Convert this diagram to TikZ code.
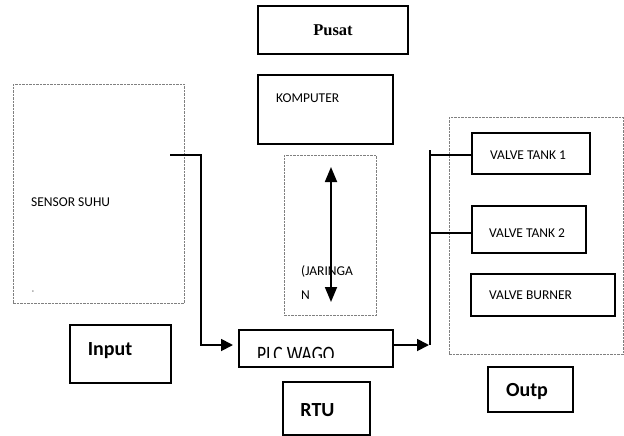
\documentclass[tikz,border=0pt]{standalone}
\usepackage{fontspec}
\setmainfont{Carlito}
\newfontfamily\serifbold{Liberation Serif}
\usetikzlibrary{arrows.meta}
\begin{document}
\begin{tikzpicture}[x=1pt,y=-1pt,
    box/.style={draw,line width=1.4pt,inner sep=0pt},
    group/.style={draw=gray,line width=0.5pt,dash pattern=on 2.5pt off 1pt,inner sep=0pt},
    txt/.style={inner sep=0pt,anchor=west,font=\fontsize{13.5}{16}\selectfont},
    big/.style={inner sep=0pt,font=\fontsize{20}{24}\selectfont\bfseries},
    conn/.style={line width=1.8pt},
    tip/.style={-{Triangle[length=12pt,width=12pt]}}]
  \useasboundingbox (0,0) rectangle (624,436);
  \node (pusat) at (333,30) [box,minimum width=150pt,minimum height=48pt]
    {\serifbold\fontsize{16.5}{20}\selectfont\bfseries Pusat};
  \node (komputer) at (325.5,109.5) [box,minimum width=135pt,minimum height=69pt] {};
  \node at (276,98) [txt] {KOMPUTER};
  \node (sensor) at (98.5,193.5) [group,minimum width=171pt,minimum height=219pt] {};
  \node at (31,202) [txt] {SENSOR SUHU};
  \node at (33,292) [inner sep=0pt,font=\fontsize{7}{8}\selectfont] {-};
  \node (jaringan) at (330,235) [group,minimum width=92pt,minimum height=160pt] {};
  \node at (301,272) [txt] {(JARINGA};
  \node at (301,295) [txt] {N};
  \node (plc) at (316,348.5) [box,minimum width=154pt,minimum height=37pt] {};
  \begin{scope}
    \clip (239,330) rectangle (393,357.7);
    \node at (257,354.1) [txt,xscale=0.8,font=\fontsize{22}{24}\selectfont] {PLC WAGO};
  \end{scope}
  \node (input) at (120.5,354) [box,minimum width=101pt,minimum height=58pt] {};
  \node at (110,351) [big] {Input};
  \node (rtu) at (326.5,408.5) [box,minimum width=87pt,minimum height=53pt] {};
  \node at (317.5,410) [big] {RTU};
  \node (output) at (536,235.5) [group,minimum width=174pt,minimum height=237pt] {};
  \node (vt1) at (531,153.5) [box,minimum width=118pt,minimum height=41pt] {};
  \node at (490,155) [txt] {VALVE TANK 1};
  \node (vt2) at (529,229.5) [box,minimum width=114pt,minimum height=47pt] {};
  \node at (489,233) [txt] {VALVE TANK 2};
  \node (vb) at (543,295) [box,minimum width=144pt,minimum height=42pt] {};
  \node at (489,295) [txt] {VALVE BURNER};
  \node (outp) at (530.5,389.5) [box,minimum width=85pt,minimum height=45pt] {};
  \node at (527,392) [big] {Outp};
  \coordinate (s0) at (170,155);
  \coordinate (s1) at (233,345);
  \coordinate (j1) at (331,167);
  \coordinate (j2) at (331,302);
  \coordinate (p0) at (plc.east |- s1);
  \coordinate (p1) at (430,345);
  \coordinate (b0) at (430,150);
  \coordinate (b1) at (430,155);
  \coordinate (b2) at (430,233);
  \draw[conn,tip] (s0) -- (s0 -| 201,0) |- (s1);
  \draw[conn,{Triangle[length=15pt,width=12pt]}-{Triangle[length=15pt,width=12pt]}] (j1) -- (j2);
  \draw[conn,tip] (p0) -- ([xshift=-1pt]p1);
  \draw[conn] (b0) -- (p1);
  \draw[line width=1.4pt] (b1) -- (b1 -| vt1.west);
  \draw[line width=1.4pt] (b2) -- (b2 -| vt2.west);
\end{tikzpicture}
\end{document}
